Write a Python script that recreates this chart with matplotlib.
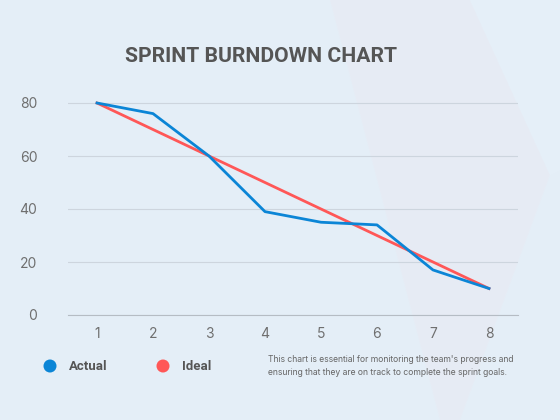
import matplotlib.pyplot as plt
from matplotlib.patches import Polygon, Circle

sprints = [1, 2, 3, 4, 5, 6, 7, 8]
actual = [80, 76, 60, 39, 35, 34, 17, 10]
ideal = [80, 70, 60, 50, 40, 30, 20, 10]
y_ticks = [0, 20, 40, 60, 80]

blue = '#0b85d6'
red = '#ff5757'
bg = '#e4eef7'

plt.rcParams['font.family'] = ['Inter', 'DejaVu Sans']

fig = plt.figure(figsize=(5.6, 4.2), dpi=100)
fig.patch.set_facecolor(bg)

# faint decorative shapes in the background
deco = fig.add_axes([0, 0, 1, 1], zorder=0)
deco.set_xlim(0, 560)
deco.set_ylim(420, 0)
deco.axis('off')
deco.add_patch(Polygon([(330, 0), (470, 0), (550, 175), (460, 420), (440, 420)],
                       closed=True, facecolor='#e9eaf3', edgecolor='none', alpha=0.5))
deco.add_patch(Polygon([(470, 0), (560, 0), (560, 170), (550, 175)],
                       closed=True, facecolor='#e6f0f9', edgecolor='none', alpha=0.8))

ax = fig.add_axes([68 / 560, 1 - 315 / 420, 450 / 560, 220 / 420], zorder=1)
ax.patch.set_alpha(0)
ax.plot(sprints, ideal, color=red, linewidth=2, zorder=3)
ax.plot(sprints, actual, color=blue, linewidth=2, zorder=4)

ax.set_xlim(0.482, 8.518)
ax.set_ylim(0, 80 * 220 / 212)
ax.set_yticks(y_ticks)
ax.set_xticks(sprints)
ax.grid(axis='y', color='#cdd5de', linewidth=0.8)
ax.set_axisbelow(True)
for s in ['top', 'right', 'left']:
    ax.spines[s].set_visible(False)
ax.spines['bottom'].set_color('#b5bcc4')
ax.spines['bottom'].set_linewidth(0.8)
ax.tick_params(length=0, colors='#6f6f6f', labelsize=10)
ax.tick_params(axis='x', pad=9)
ax.tick_params(axis='y', pad=22)

fig.text(261 / 560, 1 - 56 / 420, 'SPRINT BURNDOWN CHART', ha='center', va='center',
         fontsize=15.2, fontweight='bold', color='#555555',
         family=['Roboto', 'DejaVu Sans'])

# legend
deco.add_patch(Circle((50, 366), 6.5, facecolor=blue, edgecolor='none'))
deco.add_patch(Circle((163, 366), 6.5, facecolor=red, edgecolor='none'))
deco.text(69, 366, 'Actual', va='center', fontsize=9.5, color='#555555', fontweight='bold',
          family=['Roboto', 'DejaVu Sans'])
deco.text(182, 366, 'Ideal', va='center', fontsize=9.5, color='#555555', fontweight='bold',
          family=['Roboto', 'DejaVu Sans'])
deco.text(268, 366, "This chart is essential for monitoring the team's progress and\n"
          "ensuring that they are on track to complete the sprint goals.",
          va='center', fontsize=6.2, color='#666666', linespacing=1.5)

fig.savefig('out.png', dpi=100, facecolor=bg)
